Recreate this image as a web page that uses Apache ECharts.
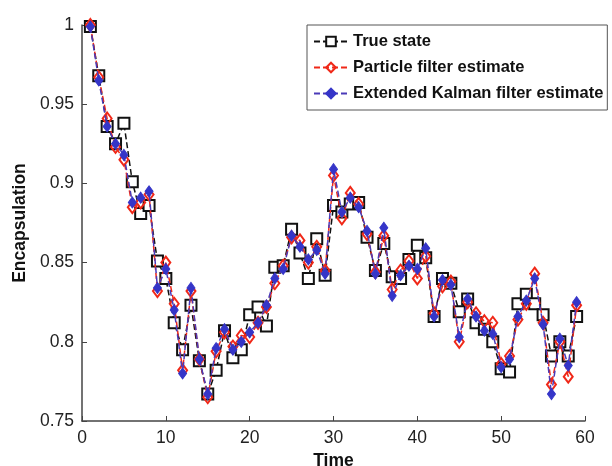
<!DOCTYPE html>
<html>
<head>
<meta charset="utf-8">
<script src="https://cdn.jsdelivr.net/npm/echarts@6/dist/echarts.min.js"></script>
<style>
  html, body { margin: 0; padding: 0; background: #fff; }
  #chart { width: 612px; height: 466px; }
</style>
</head>
<body>
<div id="chart"></div>
<script>
// time steps
var time = [1, 2, 3, 4, 5, 6, 7, 8, 9, 10, 11, 12, 13, 14, 15, 16, 17, 18, 19, 20,
    21, 22, 23, 24, 25, 26, 27, 28, 29, 30, 31, 32, 33, 34, 35, 36, 37, 38, 39, 40,
    41, 42, 43, 44, 45, 46, 47, 48, 49, 50, 51, 52, 53, 54, 55, 56, 57, 58, 59];

var trueState = [0.999, 0.968, 0.936, 0.925, 0.938, 0.901, 0.881, 0.886, 0.851, 0.840,
    0.812, 0.795, 0.823, 0.788, 0.767, 0.782, 0.807, 0.790, 0.795, 0.817,
    0.822, 0.810, 0.847, 0.848, 0.871, 0.856, 0.840, 0.865, 0.842, 0.886,
    0.882, 0.887, 0.888, 0.866, 0.845, 0.862, 0.841, 0.840, 0.852, 0.861,
    0.853, 0.816, 0.840, 0.837, 0.819, 0.827, 0.812, 0.808, 0.800, 0.783,
    0.781, 0.824, 0.830, 0.824, 0.817, 0.791, 0.800, 0.791, 0.816];

var particle = [1.000, 0.967, 0.941, 0.923, 0.915, 0.885, 0.888, 0.893, 0.832, 0.850,
    0.824, 0.782, 0.832, 0.789, 0.765, 0.794, 0.806, 0.797, 0.804, 0.803,
    0.812, 0.822, 0.837, 0.848, 0.866, 0.864, 0.850, 0.860, 0.845, 0.905,
    0.878, 0.894, 0.887, 0.868, 0.844, 0.867, 0.833, 0.845, 0.851, 0.840,
    0.854, 0.818, 0.835, 0.838, 0.800, 0.825, 0.818, 0.813, 0.812, 0.786,
    0.791, 0.814, 0.824, 0.843, 0.812, 0.773, 0.800, 0.778, 0.823];

var ekf = [0.999, 0.965, 0.936, 0.925, 0.918, 0.888, 0.891, 0.895, 0.834, 0.846,
    0.820, 0.780, 0.834, 0.789, 0.767, 0.796, 0.808, 0.795, 0.800, 0.806,
    0.812, 0.823, 0.840, 0.846, 0.867, 0.860, 0.852, 0.858, 0.843, 0.909,
    0.882, 0.891, 0.885, 0.870, 0.843, 0.872, 0.829, 0.842, 0.848, 0.846,
    0.859, 0.816, 0.839, 0.836, 0.803, 0.827, 0.816, 0.807, 0.805, 0.784,
    0.789, 0.816, 0.826, 0.840, 0.811, 0.767, 0.802, 0.785, 0.825];

function pairs(ys) {
    return ys.map(function (v, i) { return [time[i], v]; });
}

var myChart = echarts.init(document.getElementById('chart'));

var axisFont = { fontFamily: 'Liberation Sans', fontSize: 17.5, color: '#222' };
var nameFont = { fontFamily: 'Liberation Sans', fontSize: 17.5, fontWeight: 'bold', color: '#111' };

var option = {
    animation: false,
    backgroundColor: '#fff',
    grid: { left: 82, right: 27, top: 25, bottom: 45, containLabel: false, outerBoundsMode: 'none' },
    legend: {
        orient: 'vertical',
        left: 307,
        top: 25,
        padding: [8, 4, 8, 6],
        itemGap: 9,
        itemWidth: 34,
        itemHeight: 12,
        borderColor: '#555',
        borderWidth: 1,
        backgroundColor: '#fff',
        textStyle: { fontFamily: 'Liberation Sans', fontSize: 16.5, fontWeight: 'bold', color: '#111' },
        data: ['True state', 'Particle filter estimate', 'Extended Kalman filter estimate']
    },
    xAxis: {
        type: 'value',
        min: 0, max: 60, interval: 10,
        name: 'Time',
        nameLocation: 'middle',
        nameGap: 25,
        nameTextStyle: nameFont,
        axisLine: { lineStyle: { color: '#444', width: 1.5 } },
        axisTick: { inside: true, length: 5, lineStyle: { color: '#444' } },
        axisLabel: axisFont,
        splitLine: { show: false }
    },
    yAxis: {
        type: 'value',
        min: 0.75, max: 1, interval: 0.05,
        name: 'Encapsulation',
        nameLocation: 'middle',
        nameGap: 52,
        nameTextStyle: nameFont,
        axisLine: { show: true, lineStyle: { color: '#444', width: 1.5 } },
        axisTick: { show: true, inside: true, length: 5, lineStyle: { color: '#444' } },
        axisLabel: axisFont,
        splitLine: { show: false }
    },
    series: [
        {
            name: 'True state',
            type: 'line',
            data: pairs(trueState),
            symbol: 'rect',
            symbolSize: 11,
            itemStyle: { color: '#fff', borderColor: '#111', borderWidth: 2 },
            lineStyle: { color: '#111', width: 1.5, type: [6, 3] },
            z: 2
        },
        {
            name: 'Particle filter estimate',
            type: 'line',
            data: pairs(particle),
            symbol: 'diamond',
            symbolSize: [9, 12],
            itemStyle: { color: 'rgba(255,255,255,0)', borderColor: '#f02818', borderWidth: 2 },
            lineStyle: { color: '#f02818', width: 1.5, type: [6, 3] },
            z: 3
        },
        {
            name: 'Extended Kalman filter estimate',
            type: 'line',
            data: pairs(ekf),
            symbol: 'diamond',
            symbolSize: [8, 11],
            itemStyle: { color: '#3535c8', borderColor: '#3535c8', borderWidth: 1 },
            lineStyle: { color: '#4a3ab8', width: 1.5, type: [6, 3] },
            z: 4
        }
    ]
};

myChart.setOption(option);
</script>
</body>
</html>
